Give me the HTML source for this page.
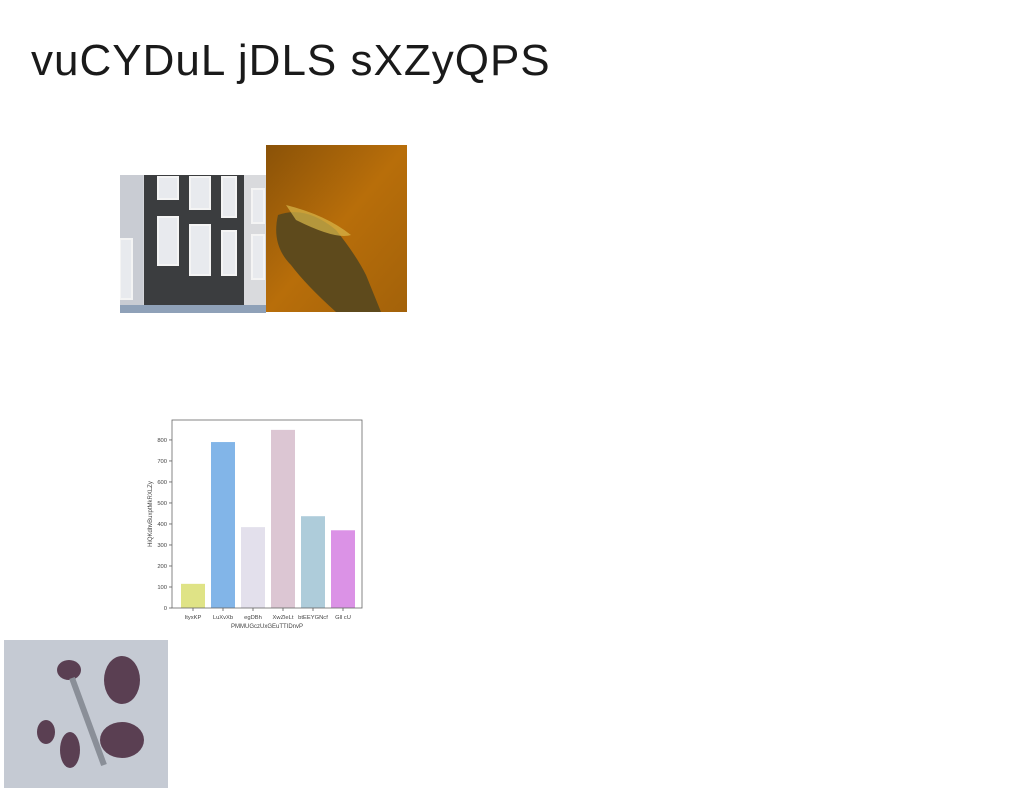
<!DOCTYPE html>
<html><head><meta charset="utf-8"><style>
body{margin:0;width:1024px;height:788px;background:#fff;position:relative;overflow:hidden;font-family:"Liberation Sans",sans-serif}
.abs{position:absolute}
</style></head><body>
<div class="abs" style="left:31px;top:36px;font-size:44px;color:#1a1a1a;letter-spacing:1px;white-space:nowrap">vuCYDuL jDLS sXZyQPS</div>

<svg class="abs" style="left:120px;top:175px" width="146" height="138">
<rect width="146" height="138" fill="#d4d6db"/>
<rect x="0" y="0" width="23" height="138" fill="#c9ccd3"/>
<rect x="24" y="0" width="100" height="138" fill="#3b3d3f"/>
<rect x="124" y="0" width="22" height="138" fill="#d9dadd"/>
<g fill="#e8eaee" stroke="#f4f4f4" stroke-width="2">
<rect x="38" y="2" width="20" height="22"/><rect x="70" y="2" width="20" height="32"/><rect x="102" y="2" width="14" height="40"/>
<rect x="38" y="42" width="20" height="48"/><rect x="70" y="50" width="20" height="50"/><rect x="102" y="56" width="14" height="44"/>
<rect x="132" y="14" width="12" height="34"/><rect x="132" y="60" width="12" height="44"/><rect x="0" y="64" width="12" height="60"/>
</g>
<rect x="0" y="130" width="146" height="8" fill="#8fa1b8"/>
</svg>

<svg class="abs" style="left:266px;top:145px" width="141" height="167">
<defs><linearGradient id="am" x1="0" y1="0" x2="1" y2="1"><stop offset="0" stop-color="#8a5208"/><stop offset="0.5" stop-color="#b86e0a"/><stop offset="1" stop-color="#a3620a"/></linearGradient></defs>
<rect width="141" height="167" fill="url(#am)"/>
<path d="M12 70 Q40 60 70 85 Q90 110 100 130 L115 167 L70 167 Q40 140 25 120 Q5 100 12 70Z" fill="#5e4a1c"/>
<path d="M20 60 Q60 70 85 90 Q70 95 30 75Z" fill="#d9b84a" opacity="0.7"/>
</svg>

<svg class="abs" style="left:4px;top:640px" width="164" height="148">
<rect width="164" height="148" fill="#c5cad3"/>
<g fill="#5a3f52">
<ellipse cx="65" cy="30" rx="12" ry="10"/><ellipse cx="118" cy="40" rx="18" ry="24"/><ellipse cx="42" cy="92" rx="9" ry="12"/>
<ellipse cx="66" cy="110" rx="10" ry="18"/><ellipse cx="118" cy="100" rx="22" ry="18"/>
</g>
<path d="M68 38 L100 125" stroke="#8a8f98" stroke-width="6"/>
</svg>

<svg class="abs" id="chart" style="left:140px;top:410px" width="240" height="230"></svg>

<script>
const categories = ["ItyxKP","LuXvXb","egDBh","XwZleLt","btEEYGNcf","Gll cU"];
const values = [115, 790, 385, 848, 437, 370];
const colors = ["#dfe386","#82b5e8","#e3e0ec","#dcc6d3","#aeccda","#db92e6"];
const yTicks = [0,100,200,300,400,500,600,700,800];
const xTitle = "PMMUGczUxGEuTTIDnvP";
const yTitle = "HiQKdhvBuxptMkRXLZy";

const NS="http://www.w3.org/2000/svg";
const svg=document.getElementById('chart');
const L=32,R=222,T=10,B=198;
const yMax=895;
const y=v=>B-(v/yMax)*(B-T);
const slot=30, first=53;
const x=i=>first+i*slot;
function mk(tag,attrs){const e=document.createElementNS(NS,tag);for(const k in attrs)e.setAttribute(k,attrs[k]);svg.appendChild(e);return e;}

values.forEach((v,i)=>{
  const r=mk('rect',{x:x(i)-12,y:y(v),width:24,height:B-y(v),fill:colors[i]});
  
  
  const t=mk('text',{x:x(i),y:B+11,'font-size':5.8,'text-anchor':'middle',fill:'#444'});
  t.textContent=categories[i];
  
  
  mk('line',{x1:x(i),x2:x(i),y1:B,y2:B+3,stroke:'#444','stroke-width':0.7});
});
yTicks.forEach(v=>{
  mk('line',{x1:L-3,x2:L,y1:y(v),y2:y(v),stroke:'#444','stroke-width':0.7});
  const t=mk('text',{x:L-5,y:y(v)+2,'font-size':5.8,'text-anchor':'end',fill:'#444'});
  t.textContent=v;
  
  
});
const fr=mk('rect',{x:L,y:T,width:R-L,height:B-T,fill:'none',stroke:'#666','stroke-width':0.8});


const xt=mk('text',{x:(L+R)/2,y:B+20,'font-size':6,'text-anchor':'middle',fill:'#444'});
xt.textContent=xTitle;


const yt=mk('text',{x:0,y:0,'font-size':6,'text-anchor':'middle',fill:'#444',transform:`translate(12,${(T+B)/2}) rotate(-90)`});
yt.textContent=yTitle;


</script>
</body></html>
